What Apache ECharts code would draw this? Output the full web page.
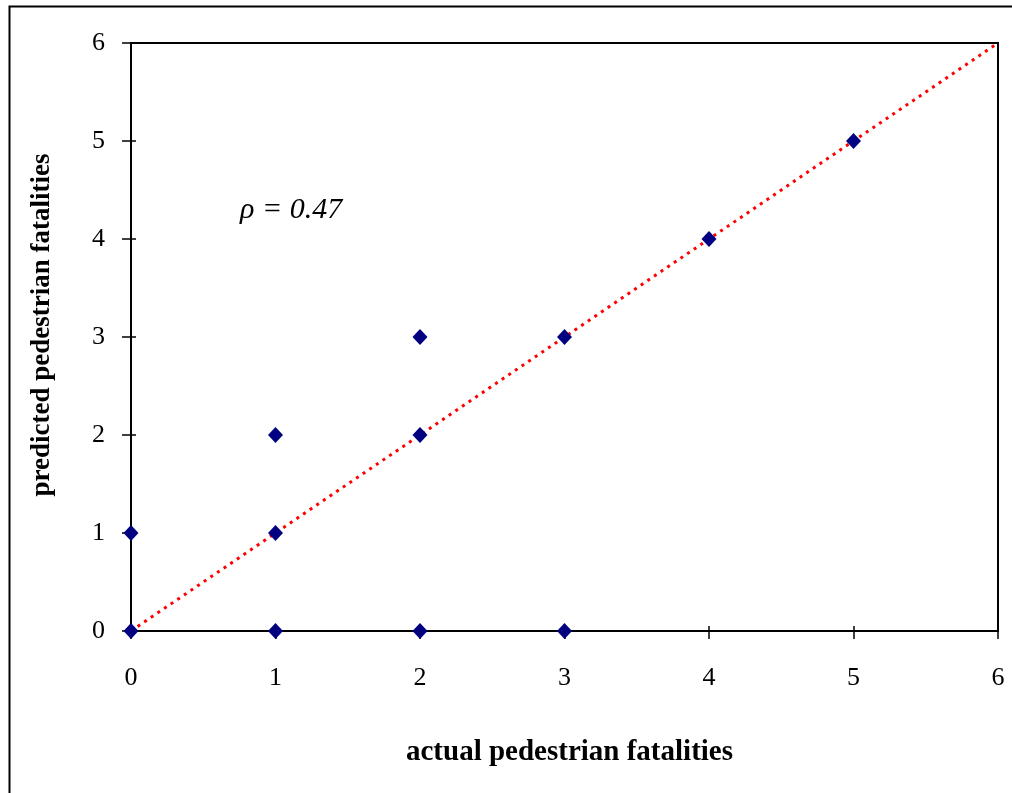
<!DOCTYPE html>
<html>
<head>
<meta charset="UTF-8">
<title>pedestrian fatalities</title>
<script src="https://cdn.jsdelivr.net/npm/echarts@6/dist/echarts.min.js"></script>
<style>
  html, body { margin: 0; padding: 0; background: #fff; }
  #main { width: 1012px; height: 793px; }
</style>
</head>
<body>
<div id="main"></div>
<script>
  // observed vs predicted pairs
  var actual    = [0, 0, 1, 1, 1, 2, 2, 2, 3, 3, 4, 5];
  var predicted = [0, 1, 0, 1, 2, 0, 2, 3, 0, 3, 4, 5];
  var fitLine   = [[0, 0], [6, 6]];
  var corrText  = 'ρ = 0.47';

  var points = actual.map(function (a, i) { return [a, predicted[i]]; });
  var serif = '"Liberation Serif", "DejaVu Serif", serif';

  var chart = echarts.init(document.getElementById('main'), null, { renderer: 'canvas' });

  var baseAxis = {
    type: 'value', min: 0, max: 6, interval: 1,
    splitLine: { show: false }
  };

  chart.setOption({
    animation: false,
    backgroundColor: '#fff',
    grid: {
      left: 131, top: 43, right: 14, bottom: 162,
      show: true, borderColor: '#000', borderWidth: 2
    },
    xAxis: [
      Object.assign({}, baseAxis, {
        position: 'bottom',
        name: 'actual pedestrian fatalities',
        nameLocation: 'middle', nameGap: 107,
        nameTextStyle: { fontFamily: serif, fontSize: 29, fontWeight: 'bold', color: '#000', padding: [0, 0, 0, 10] },
        axisLine: { lineStyle: { color: '#000', width: 2 } },
        axisTick: { show: true, length: 8, lineStyle: { color: '#000', width: 1.5 } },
        axisLabel: { margin: 34, fontFamily: serif, fontSize: 26, color: '#000' }
      }),
      Object.assign({}, baseAxis, {
        position: 'bottom', offset: 0,
        axisLine: { show: false },
        axisTick: { show: true, inside: true, length: 5, lineStyle: { color: '#000', width: 1.5 } },
        axisLabel: { show: false }
      })
    ],
    yAxis: [
      Object.assign({}, baseAxis, {
        position: 'left',
        name: 'predicted pedestrian fatalities',
        nameLocation: 'middle', nameGap: 75,
        nameTextStyle: { fontFamily: serif, fontSize: 27, fontWeight: 'bold', color: '#000', padding: [0, 0, 0, 24] },
        axisLine: { lineStyle: { color: '#000', width: 2 } },
        axisTick: { show: true, length: 9, lineStyle: { color: '#000', width: 1.5 } },
        axisLabel: { margin: 26, fontFamily: serif, fontSize: 26, color: '#000' }
      }),
      Object.assign({}, baseAxis, {
        position: 'left', offset: 0,
        axisLine: { show: false },
        axisTick: { show: true, inside: true, length: 5, lineStyle: { color: '#000', width: 1.5 } },
        axisLabel: { show: false }
      })
    ],
    graphic: [
      {
        type: 'rect', left: 7, top: 4, silent: true,
        shape: { width: 1020, height: 800 },
        style: { fill: 'none', stroke: '#000', lineWidth: 2 }
      },
      {
        type: 'text', left: 240, top: 195,
        style: {
          text: corrText, fill: '#000',
          font: 'italic 30px "Liberation Serif", serif'
        }
      }
    ],
    series: [
      {
        type: 'line', data: fitLine, showSymbol: false, symbol: 'none',
        lineStyle: { color: '#ff0000', width: 3, type: [3, 5] },
        z: 3
      },
      {
        type: 'scatter', data: points, symbol: 'diamond', symbolSize: [15, 16],
        itemStyle: { color: '#000080', opacity: 1 },
        z: 4
      }
    ]
  });
</script>
</body>
</html>
